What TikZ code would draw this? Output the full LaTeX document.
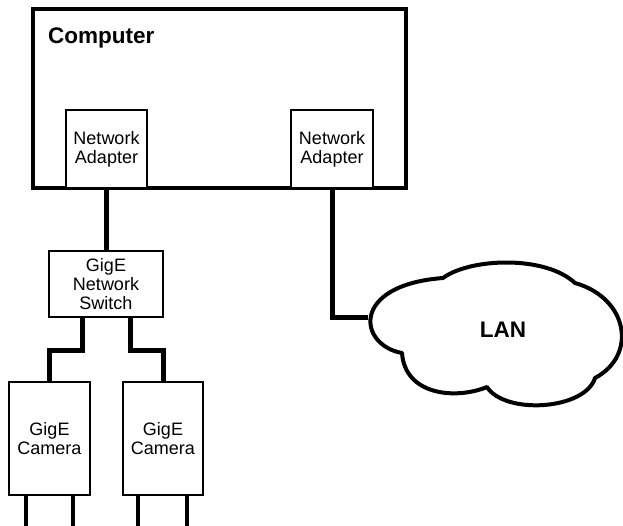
\documentclass[tikz,border=0pt]{standalone}
\usepackage{fontspec}
\setmainfont{Liberation Sans}
\usetikzlibrary{calc}
\begin{document}
\begin{tikzpicture}[x=1pt,y=-1pt,
  small/.style={font=\fontsize{18}{19}\selectfont, align=center, inner sep=0pt},
  box/.style={draw, line width=2.2pt, fill=white, inner sep=0pt, outer sep=0pt},
  wire/.style={line width=5pt},
  leg/.style={line width=4pt},
  big/.style={font=\fontsize{22.5}{24}\selectfont\bfseries, inner sep=0pt}]
\useasboundingbox (0,0) rectangle (623,525);
% computer
\node[draw, line width=3.3pt, minimum width=373pt, minimum height=179pt, inner sep=0pt] (comp) at (219.5,98.5) {};
\node[big, anchor=base west] (comptxt) at (48,43) {Computer};
\node[box, small, minimum width=81pt, minimum height=78pt] (la) at (106.5,149) {Network\\Adapter};
\node[box, small, minimum width=82pt, minimum height=78pt] (ra) at (332,149) {Network\\Adapter};
% switch
\node[box, small, line width=2.7pt, minimum width=114pt, minimum height=66pt] (sw) at (106,284) {GigE\\Network\\Switch};
% cameras
\node[box, small, line width=2.7pt, minimum width=81pt, minimum height=113pt] (camL) at (49.5,438.5) {GigE\\Camera};
\node[box, small, line width=2.7pt, minimum width=80pt, minimum height=113pt] (camR) at (163,438.5) {GigE\\Camera};
% cloud
\draw[line width=4pt, line join=round] (402,353) .. controls (358,345) and (350,285) .. (443,278)
  .. controls (470,258) and (545,255) .. (575,283)
  .. controls (628,298) and (638,355) .. (595,378)
  .. controls (585,410) and (505,415) .. (487,387)
  .. controls (455,400) and (405,395) .. (402,353) -- cycle;
\coordinate (lanw) at (368,317);
\node[big] (lan) at (503,330) {LAN};
% connectors
\draw[wire] (la.south) -- (la.south |- sw.north);
\draw[wire] (ra.south) |- (lanw);
\draw[wire] ($(sw.south)+(-24,0)$) -- ++(0,33) -| (camL.north);
\draw[wire] ($(sw.south)+(24,0)$) -- ++(0,33) -| (camR.north);
% legs
\draw[leg] ($(camL.south)+(-23.5,0)$) -- ++(0,32);
\draw[leg] ($(camL.south)+(23.5,0)$) -- ++(0,32);
\draw[leg] ($(camR.south)+(-25,0)$) -- ++(0,32);
\draw[leg] ($(camR.south)+(24,0)$) -- ++(0,32);
\end{tikzpicture}
\end{document}
